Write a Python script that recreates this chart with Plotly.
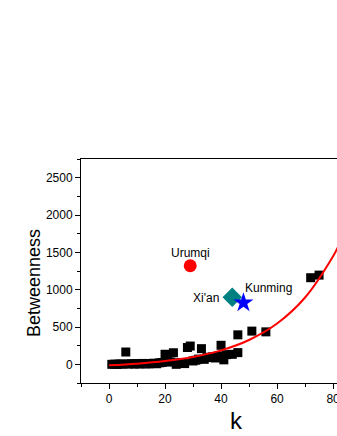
import plotly.graph_objects as go

# Black squares: other cities (degree k, betweenness)
k_vals = [1, 2, 3, 4, 5, 6, 7, 8, 9, 10, 11, 12, 13, 14, 15, 16, 17, 18, 19,
          20, 21, 22, 23, 24, 25, 26, 27, 28, 29, 30, 31, 32, 33, 34, 35, 36,
          37, 38, 39, 40, 40, 41, 42, 44, 46, 46, 51, 56, 72, 75]
b_vals = [0, 2, 0, 5, 3, 165, 5, 8, 5, 10, 4, 12, 8, 6, 10, 15, 8, 20, 25,
          135, 40, 30, 155, 0, 20, 25, 10, 225, 245, 45, 55, 70, 210, 67, 90, 95,
          100, 85, 112, 255, 110, 60, 130, 134, 395, 157, 445, 435, 1160, 1195]

# Highlighted cities
city_names = ["Urumqi", "Xi'an", "Kunming"]
city_k = [29, 44, 48]
city_b = [1320, 900, 825]

# Exponential fit curve
fit_k = [0, 10, 20, 30, 40, 50, 60, 70, 80, 82]
fit_b = [-13, 9, 44, 99, 187, 326, 546, 895, 1448, 1592]

x_title = "k"
y_title = "Betweenness"

fig = go.Figure()
fig.add_trace(go.Scatter(x=k_vals, y=b_vals, mode="markers",
                         marker=dict(symbol="square", size=9, color="black"),
                         showlegend=False))
fig.add_trace(go.Scatter(x=fit_k, y=fit_b, mode="lines", line_shape="spline",
                         line=dict(color="#ff0000", width=2), showlegend=False))
fig.add_trace(go.Scatter(x=[city_k[0]], y=[city_b[0]], mode="markers",
                         marker=dict(symbol="circle", size=13, color="#ff0000"),
                         showlegend=False))
fig.add_trace(go.Scatter(x=[city_k[1]], y=[city_b[1]], mode="markers",
                         marker=dict(symbol="diamond", size=15, color="#008080"),
                         showlegend=False))
fig.add_trace(go.Scatter(x=[city_k[2]], y=[city_b[2]], mode="markers",
                         marker=dict(symbol="star", size=15, color="#0000ff"),
                         showlegend=False))

fig.add_annotation(x=city_k[0], y=city_b[0], text=city_names[0], showarrow=False,
                   yshift=13, font=dict(size=12, color="black"))
fig.add_annotation(x=city_k[1], y=city_b[1], text=city_names[1], showarrow=False,
                   xshift=-11, xanchor="right", yshift=-1, font=dict(size=12, color="black"))
fig.add_annotation(x=city_k[2], y=city_b[2], text=city_names[2], showarrow=False,
                   xshift=0, xanchor="left", yshift=15, font=dict(size=12, color="black"))

# Axis titles placed as in the reference
fig.add_annotation(x=(236 - 81) / 256, y=(383 - 420) / 224, xref="paper", yref="paper",
                   text=x_title, showarrow=False, xanchor="center", yanchor="middle",
                   font=dict(size=24, color="black"))
fig.add_annotation(x=(34 - 81) / 256, y=(383 - 283) / 224, xref="paper", yref="paper",
                   text=y_title, showarrow=False, textangle=-90,
                   xanchor="center", yanchor="middle",
                   font=dict(size=18, color="black"))

fig.update_layout(
    width=337, height=436,
    margin=dict(l=81, r=0, t=159, b=53),
    plot_bgcolor="white", paper_bgcolor="white",
    font=dict(family="Liberation Sans, Arial, sans-serif", color="black"),
    xaxis=dict(range=[-10, 81.4], tickvals=[0, 20, 40, 60, 80],
               ticks="outside", ticklen=5, tickwidth=1, tickcolor="black",
               minor=dict(dtick=10, tick0=0, ticks="outside", ticklen=3, tickcolor="black"),
               showline=True, linecolor="black", linewidth=1, mirror=True,
               showgrid=False, zeroline=False, automargin=False,
               ticklabeloverflow="allow",
               tickfont=dict(size=12)),
    yaxis=dict(range=[-250, 2750], tickvals=[0, 500, 1000, 1500, 2000, 2500],
               ticks="outside", ticklen=5, tickwidth=1, tickcolor="black",
               minor=dict(dtick=250, tick0=0, ticks="outside", ticklen=3, tickcolor="black"),
               showline=True, linecolor="black", linewidth=1, mirror=False,
               showgrid=False, zeroline=False, automargin=False,
               tickfont=dict(size=12)),
)

fig.write_html("out.html", config={"displayModeBar": False},
               post_script="document.body.style.margin='0';document.body.style.overflow='hidden';")
